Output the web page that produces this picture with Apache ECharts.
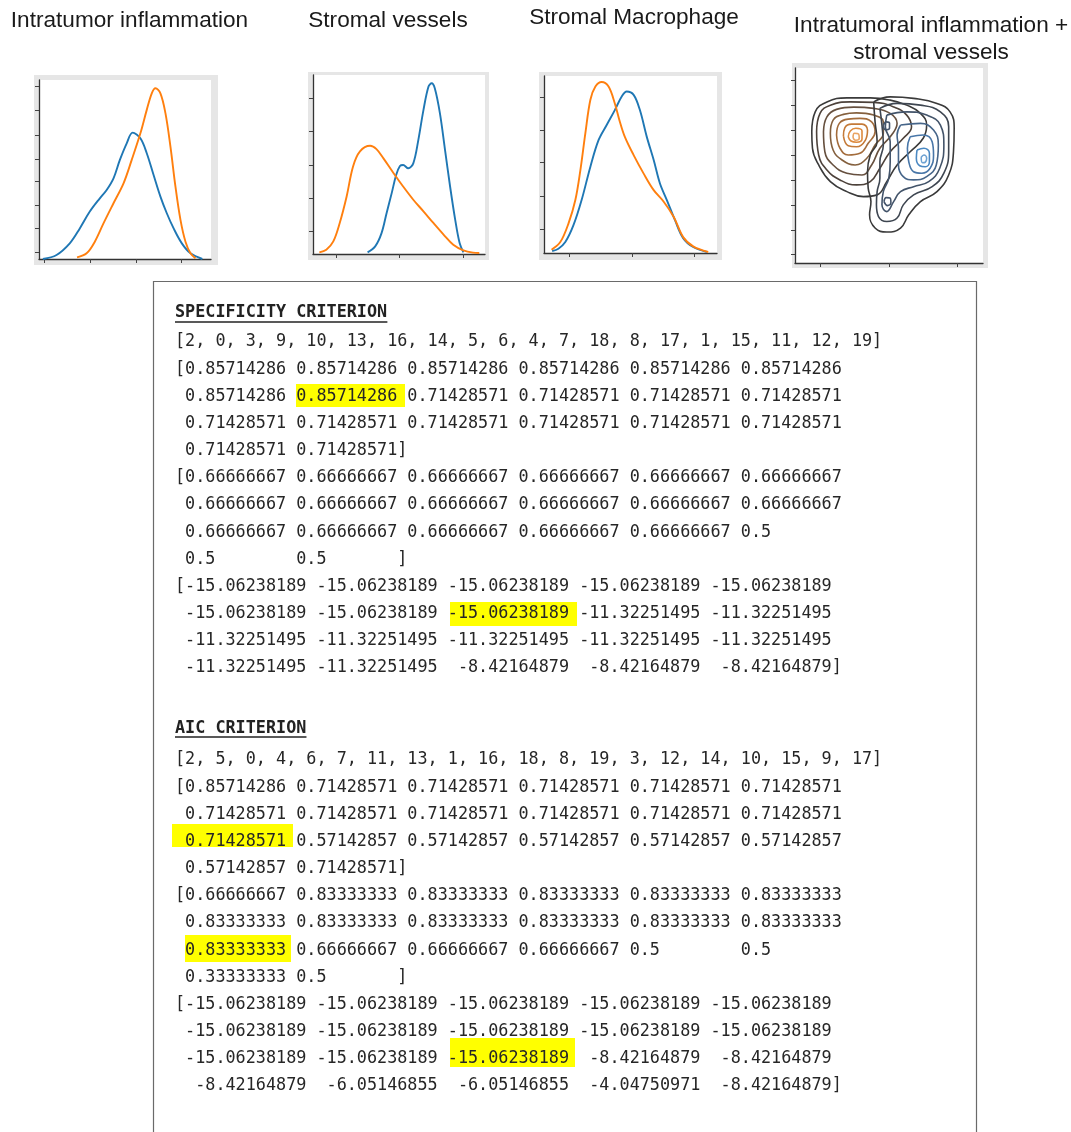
<!DOCTYPE html>
<html><head><meta charset="utf-8">
<script src="https://cdn.jsdelivr.net/npm/echarts@6/dist/echarts.min.js"></script>
<style>html,body{margin:0;padding:0;background:#fff}#c{width:1071px;height:1132px}</style>
</head><body><div id="c"></div><script>
// ---------------- DATA ----------------
const panelTitles = ['Intratumor inflammation', 'Stromal vessels', 'Stromal Macrophage', 'Intratumoral inflammation +\nstromal vessels'];

// Panel 1: Intratumor inflammation (KDE, arbitrary units)
const inflamBlue = [[-0.04,0],[0.26,0.17],[0.55,0.66],[0.77,1.29],[0.99,2.0],[1.21,2.56],[1.36,2.91],[1.51,3.40],[1.65,4.18],[1.80,4.88],[1.93,5.33],[2.10,5.09],[2.24,4.46],[2.39,3.54],[2.54,2.63],[2.68,1.93],[2.83,1.29],[3.01,0.66],[3.20,0.24],[3.46,0]];
const inflamOrange = [[0.71,0.07],[0.92,0.24],[1.10,0.73],[1.29,1.50],[1.51,2.35],[1.73,3.19],[1.91,4.18],[2.10,5.30],[2.24,6.29],[2.35,6.99],[2.43,7.20],[2.54,6.99],[2.65,6.15],[2.76,4.74],[2.87,3.05],[2.98,1.65],[3.09,0.73],[3.20,0.24],[3.31,0.03]];

// Panel 2: Stromal vessels
const vesselsBlue = [[0.50,0.02],[0.62,0.20],[0.72,0.60],[0.80,1.21],[0.88,1.81],[0.95,2.36],[1.01,2.63],[1.06,2.66],[1.14,2.56],[1.22,2.71],[1.30,3.42],[1.38,4.32],[1.46,5.03],[1.51,5.13],[1.56,4.97],[1.64,4.22],[1.72,3.12],[1.80,2.01],[1.88,1.01],[1.95,0.30],[2.01,0.02]];
const vesselsOrange = [[-0.26,0.02],[-0.15,0.10],[-0.04,0.35],[0.06,0.90],[0.17,1.71],[0.27,2.61],[0.38,3.07],[0.54,3.24],[0.64,3.14],[0.75,2.86],[0.91,2.41],[1.06,2.01],[1.22,1.61],[1.38,1.26],[1.54,0.90],[1.70,0.55],[1.85,0.25],[2.01,0.08],[2.16,0.01],[2.26,0]];

// Panel 3: Stromal Macrophage
const macroBlue = [[-0.27,0.03],[-0.17,0.10],[-0.06,0.30],[0.07,0.81],[0.20,1.57],[0.34,2.58],[0.47,3.38],[0.60,3.84],[0.73,4.29],[0.84,4.70],[0.92,4.85],[1.03,4.75],[1.13,4.29],[1.24,3.48],[1.35,2.78],[1.45,2.07],[1.56,1.57],[1.69,0.96],[1.82,0.42],[1.98,0.15],[2.20,0]];
const macroOrange = [[-0.28,0.07],[-0.14,0.30],[-0.01,0.86],[0.10,1.57],[0.18,2.47],[0.26,3.59],[0.34,4.60],[0.42,5.00],[0.52,5.14],[0.63,5.00],[0.73,4.49],[0.81,3.94],[0.89,3.48],[1.03,2.93],[1.19,2.37],[1.35,1.87],[1.51,1.52],[1.67,1.06],[1.82,0.45],[1.98,0.17],[2.22,0]];

// Panel 4: 2-D KDE contour rings (outer -> inner)
const orangeRing1 = [[-0.12,4.93],[-0.07,5.73],[0.10,6.13],[0.39,6.29],[0.73,6.29],[1.02,6.20],[1.26,6.00],[1.46,5.67],[1.55,5.20],[1.50,4.67],[1.31,4.13],[1.12,3.60],[0.97,2.93],[0.83,2.40],[0.63,2.33],[0.39,2.53],[0.15,2.93],[-0.02,3.60],[-0.11,4.27]];
const orangeRing2 = [[-0.05,4.93],[0,5.67],[0.15,6.00],[0.44,6.13],[0.78,6.11],[1.07,5.93],[1.26,5.60],[1.33,5.13],[1.21,4.67],[1.02,4.13],[0.87,3.47],[0.73,2.93],[0.53,2.80],[0.29,3.00],[0.10,3.40],[-0.02,4.00]];
const orangeRing3 = [[0.05,4.93],[0.10,5.53],[0.24,5.83],[0.49,5.92],[0.78,5.87],[1.02,5.67],[1.12,5.27],[1.04,4.80],[0.87,4.27],[0.75,3.60],[0.61,3.20],[0.39,3.27],[0.19,3.60],[0.07,4.13]];
const orangeRing4 = [[0.15,4.87],[0.19,5.40],[0.34,5.63],[0.53,5.69],[0.78,5.60],[0.92,5.33],[0.92,4.87],[0.80,4.40],[0.68,3.87],[0.51,3.60],[0.32,3.80],[0.19,4.20]];
const orangeRing5 = [[0.24,4.80],[0.28,5.27],[0.41,5.44],[0.58,5.47],[0.75,5.33],[0.80,4.93],[0.70,4.47],[0.58,4.07],[0.41,4.00],[0.29,4.27]];
const orangeRing6 = [[0.34,4.76],[0.36,5.09],[0.46,5.24],[0.61,5.24],[0.69,5.00],[0.66,4.60],[0.53,4.33],[0.41,4.37]];
const orangeRing7 = [[0.41,4.73],[0.44,4.96],[0.52,5.07],[0.61,4.96],[0.61,4.64],[0.53,4.51],[0.45,4.56]];
const orangeRing8 = [[0.48,4.73],[0.50,4.87],[0.56,4.84],[0.57,4.67],[0.52,4.59],[0.49,4.64]];

const blueRing1 = [[0.78,6.13],[1.02,6.33],[1.36,6.27],[1.70,6.07],[1.89,5.73],[1.95,5.07],[1.94,4.13],[1.87,3.20],[1.70,2.53],[1.46,2.13],[1.29,1.60],[1.17,1.07],[0.97,0.91],[0.80,1.07],[0.72,1.60],[0.74,2.13],[0.70,2.67],[0.69,3.33],[0.73,4.00],[0.83,4.53],[0.80,5.33]];
const blueRing2 = [[0.87,5.87],[1.12,6.07],[1.46,6.00],[1.75,5.73],[1.87,5.13],[1.87,4.13],[1.80,3.27],[1.63,2.73],[1.36,2.40],[1.21,2.00],[1.12,1.47],[0.97,1.33],[0.85,1.53],[0.82,2.00],[0.83,2.53],[0.87,3.07],[0.87,3.73],[0.92,4.40],[0.90,5.20]];
const blueRing3 = [[0.97,5.60],[1.26,5.73],[1.55,5.60],[1.75,5.20],[1.80,4.40],[1.74,3.47],[1.58,2.93],[1.36,2.73],[1.17,2.53],[1.07,2.13],[0.97,1.73],[0.90,2.00],[0.92,2.53],[1.00,3.07],[1.02,3.73],[1.02,4.53],[0.95,5.13]];
const blueRing4 = [[1.17,5.20],[1.46,5.27],[1.65,5.00],[1.72,4.40],[1.69,3.60],[1.55,3.13],[1.36,3.00],[1.21,3.13],[1.14,3.60],[1.14,4.27],[1.12,4.80]];
const blueRing5 = [[1.31,4.73],[1.50,4.80],[1.63,4.53],[1.65,4.00],[1.60,3.47],[1.48,3.27],[1.36,3.33],[1.29,3.73],[1.27,4.27]];
const blueRing6 = [[1.41,4.20],[1.51,4.27],[1.59,4.07],[1.59,3.73],[1.53,3.53],[1.45,3.57],[1.40,3.87]];
const blueRing7 = [[1.47,3.91],[1.51,4.00],[1.55,3.87],[1.53,3.71],[1.49,3.69]];
const blueSmallLow = [[0.93,2.13],[0.96,2.29],[1.02,2.27],[1.03,2.07],[0.98,1.97]];
const blueSmallHigh = [[0.92,5.17],[0.96,5.33],[1.01,5.27],[1.01,5.07],[0.95,5.01]];

// Text box values
const specOrder = [2, 0, 3, 9, 10, 13, 16, 14, 5, 6, 4, 7, 18, 8, 17, 1, 15, 11, 12, 19];
const specAcc = [0.85714286,0.85714286,0.85714286,0.85714286,0.85714286,0.85714286,0.85714286,0.85714286,0.71428571,0.71428571,0.71428571,0.71428571,0.71428571,0.71428571,0.71428571,0.71428571,0.71428571,0.71428571,0.71428571,0.71428571];
const specSpec = [0.66666667,0.66666667,0.66666667,0.66666667,0.66666667,0.66666667,0.66666667,0.66666667,0.66666667,0.66666667,0.66666667,0.66666667,0.66666667,0.66666667,0.66666667,0.66666667,0.66666667,0.5,0.5,0.5];
const specLL = [-15.06238189,-15.06238189,-15.06238189,-15.06238189,-15.06238189,-15.06238189,-15.06238189,-15.06238189,-11.32251495,-11.32251495,-11.32251495,-11.32251495,-11.32251495,-11.32251495,-11.32251495,-11.32251495,-11.32251495,-8.42164879,-8.42164879,-8.42164879];
const aicOrder = [2, 5, 0, 4, 6, 7, 11, 13, 1, 16, 18, 8, 19, 3, 12, 14, 10, 15, 9, 17];
const aicAcc = [0.85714286,0.71428571,0.71428571,0.71428571,0.71428571,0.71428571,0.71428571,0.71428571,0.71428571,0.71428571,0.71428571,0.71428571,0.71428571,0.57142857,0.57142857,0.57142857,0.57142857,0.57142857,0.57142857,0.71428571];
const aicSpec = [0.66666667,0.83333333,0.83333333,0.83333333,0.83333333,0.83333333,0.83333333,0.83333333,0.83333333,0.83333333,0.83333333,0.83333333,0.83333333,0.66666667,0.66666667,0.66666667,0.5,0.5,0.33333333,0.5];
const aicLL = [-15.06238189,-15.06238189,-15.06238189,-15.06238189,-15.06238189,-15.06238189,-15.06238189,-15.06238189,-15.06238189,-15.06238189,-15.06238189,-15.06238189,-15.06238189,-8.42164879,-8.42164879,-8.42164879,-6.05146855,-6.05146855,-4.04750971,-8.42164879];
const sectionTitles = ['SPECIFICITY CRITERION', 'AIC CRITERION'];

// ---------------- LAYOUT ----------------
const BLUE = '#1f77b4', ORANGE = '#ff7f0e';
const grids = [
  {left: 39, top: 80, width: 172, height: 179},
  {left: 313, top: 75, width: 172, height: 179},
  {left: 544, top: 76, width: 173, height: 177},
  {left: 795, top: 68, width: 188, height: 195}
];
const frames = [[34,75,184,190],[308,72,181,188],[539,72,183,188],[792,63,196,205]];
const axesCfg = [
  {xmin:-0.125, xmax:3.65, xt:[0,1,2,3], ymin:0, ymax:7.55, yt:[0.27,1.29,2.28,3.26,4.22,5.23,6.29,7.27]},
  {xmin:-0.36, xmax:2.35, xt:[0,1,2], ymin:-0.03, ymax:5.38, yt:[0.67,1.66,2.66,3.67,4.67]},
  {xmin:-0.40, xmax:2.36, xt:[0,1,2], ymin:-0.03, ymax:5.32, yt:[0.68,1.68,2.70,3.67,4.68]},
  {xmin:-0.364, xmax:2.369, xt:[0,1,2], ymin:-0.333, ymax:7.49, yt:[0,1,2,3,4,5,6,7]}
];
const titlePos = [[129.5,21],[388,21],[634,18],[931,39.5]];

const axisLineStyle = {color: '#333', width: 1.3};
const xAxes = axesCfg.map((a, i) => ({
  gridIndex: i, type: 'value', min: a.xmin, max: a.xmax,
  axisLine: {show: true, onZero: false, lineStyle: axisLineStyle},
  axisTick: {show: true, customValues: a.xt, length: 4, inside: false, lineStyle: {color: '#444', width: 1}},
  axisLabel: {show: false}, splitLine: {show: false}
}));
const yAxes = axesCfg.map((a, i) => ({
  gridIndex: i, type: 'value', min: a.ymin, max: a.ymax,
  axisLine: {show: true, onZero: false, lineStyle: axisLineStyle},
  axisTick: {show: true, customValues: a.yt, length: 4, inside: false, lineStyle: {color: '#444', width: 1}},
  axisLabel: {show: false}, splitLine: {show: false}
}));

function curve(idx, data, color) {
  return {type: 'line', xAxisIndex: idx, yAxisIndex: idx, data: data, smooth: 0.35,
    symbol: 'none', silent: true, lineStyle: {color: color, width: 1.9}, z: 3};
}
function ring(data, color, w) {
  return {type: 'line', xAxisIndex: 3, yAxisIndex: 3, data: data.concat([data[0]]), smooth: 0.45,
    symbol: 'none', silent: true, lineStyle: {color: color, width: w || 1.6}, z: 3};
}
const orangeRings = [orangeRing1, orangeRing2, orangeRing3, orangeRing4, orangeRing5, orangeRing6, orangeRing7, orangeRing8];
const orangeCols = ['#3a3a3a','#4d423b','#66503f','#84603e','#a36c3c','#c47a38','#dc8a3e','#e9a464'];
const blueRings = [blueRing1, blueRing2, blueRing3, blueRing4, blueRing5, blueRing6, blueRing7];
const blueCols = ['#3a3a3a','#3e4651','#43546a','#466589','#4876a8','#4a88c2','#6ea2d2'];

const series = [
  curve(0, inflamBlue, BLUE), curve(0, inflamOrange, ORANGE),
  curve(1, vesselsBlue, BLUE), curve(1, vesselsOrange, ORANGE),
  curve(2, macroBlue, BLUE), curve(2, macroOrange, ORANGE)
];
orangeRings.forEach((r, i) => series.push(ring(r, orangeCols[i])));
blueRings.forEach((r, i) => series.push(ring(r, blueCols[i])));
series.push(ring(blueSmallLow, '#44546a'));
series.push(ring(blueSmallHigh, '#44546a'));

// ---------------- TEXT BOX ----------------
function fmtNumpy(arr) {
  const parts = arr.map(v => { const s = String(v); const k = s.indexOf('.'); return k < 0 ? [s, ''] : [s.slice(0, k), s.slice(k)]; });
  const iw = Math.max(...parts.map(p => p[0].length));
  const fw = Math.max(...parts.map(p => p[1].length));
  const items = parts.map(p => p[0].padStart(iw) + p[1].padEnd(fw));
  const lines = []; let line = '[';
  items.forEach((it, idx) => {
    const fresh = (line === '[' || line === ' ');
    const add = (fresh ? '' : ' ') + it;
    const extra = idx === items.length - 1 ? 1 : 0;
    if (!fresh && line.length + add.length + extra > 75) { lines.push(line); line = ' ' + it; }
    else line += add;
  });
  lines.push(line + ']');
  return lines;
}
const MONO = '"DejaVu Sans Mono", "Liberation Mono", monospace';
const FS = 16.8, CW = FS * 0.602, TX = 175, STEP = 27.17;
const sections = [
  {title: sectionTitles[0], ty: 313, uy: 322, y0: 342, order: specOrder, arrs: [specAcc, specSpec, specLL]},
  {title: sectionTitles[1], ty: 729, uy: 737, y0: 760, order: aicOrder, arrs: [aicAcc, aicSpec, aicLL]}
];
const highlights = [[296,384,109,23],[450,602,127,24],[172,824,121,23],[185,935,106,27],[450,1038,125,29]];

const graphic = [];
frames.forEach(f => graphic.push({type: 'rect', shape: {x: f[0], y: f[1], width: f[2], height: f[3]}, style: {fill: '#e6e6e6'}, z: -10, silent: true}));
grids.forEach(g => graphic.push({type: 'rect', shape: {x: g.left, y: g.top, width: g.width, height: g.height}, style: {fill: '#ffffff'}, z: -9, silent: true}));
panelTitles.forEach((t, i) => graphic.push({type: 'text', x: titlePos[i][0], y: titlePos[i][1], silent: true,
  style: {text: t, font: '22.6px "Liberation Sans", Arial, sans-serif', fill: '#1a1a1a', textAlign: 'center', textVerticalAlign: 'middle', lineHeight: 27}}));
graphic.push({type: 'polyline', shape: {points: [[153.5,1140],[153.5,281.5],[976.5,281.5],[976.5,1140]]}, style: {stroke: '#6a6a6a', lineWidth: 1.2, fill: null}, silent: true});
highlights.forEach(h => graphic.push({type: 'rect', shape: {x: h[0], y: h[1], width: h[2], height: h[3]}, style: {fill: '#ffff00'}, z: 1, silent: true}));
sections.forEach(sec => {
  graphic.push({type: 'text', x: TX, y: sec.ty, silent: true, z: 5,
    style: {text: sec.title, font: 'bold ' + FS + 'px ' + MONO, fill: '#222', textAlign: 'left', textVerticalAlign: 'middle'}});
  graphic.push({type: 'line', shape: {x1: TX, y1: sec.uy, x2: TX + sec.title.length * CW, y2: sec.uy}, style: {stroke: '#222', lineWidth: 1.3}, z: 5, silent: true});
  let lines = ['[' + sec.order.join(', ') + ']'];
  sec.arrs.forEach(a => { lines = lines.concat(fmtNumpy(a)); });
  lines.forEach((ln, k) => graphic.push({type: 'text', x: TX, y: sec.y0 + k * STEP, silent: true, z: 5,
    style: {text: ln, font: FS + 'px ' + MONO, fill: '#262626', textAlign: 'left', textVerticalAlign: 'middle'}}));
});

const chart = echarts.init(document.getElementById('c'), null, {renderer: 'canvas'});
chart.setOption({
  animation: false,
  backgroundColor: '#ffffff',
  grid: grids.map(g => Object.assign({show: false, containLabel: false}, g)),
  xAxis: xAxes, yAxis: yAxes,
  series: series,
  graphic: graphic
});
</script></body></html>
